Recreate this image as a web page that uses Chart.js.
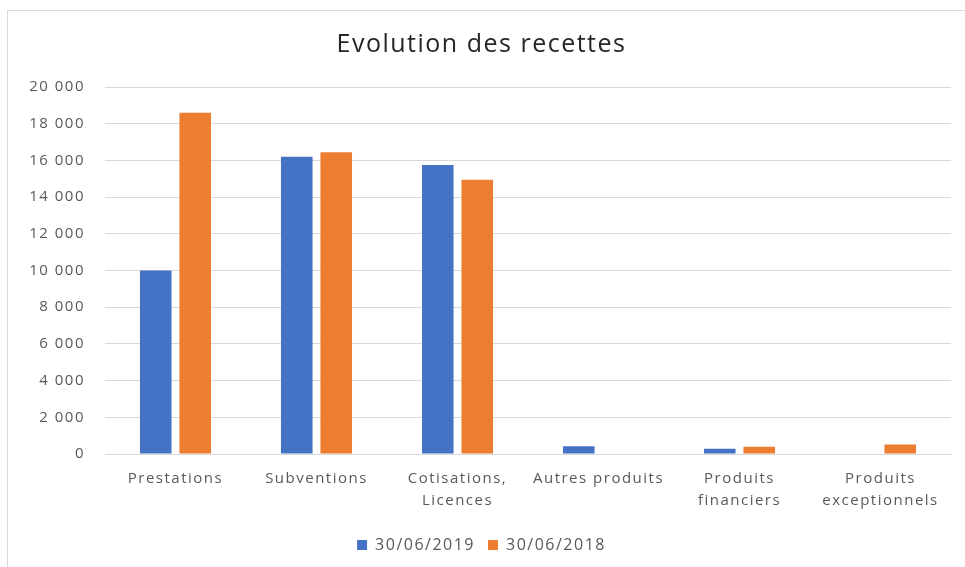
<!DOCTYPE html>
<html>
<head>
<meta charset="utf-8">
<script src="https://cdn.jsdelivr.net/npm/chart.js@4"></script>
<style>
  html, body { margin: 0; padding: 0; background: #fff; }
  #cadre { position: absolute; left: 7px; top: 10px; width: 970px; height: 570px; border: 1px solid #d9d9d9; box-sizing: border-box; }
  #graficoRecettes { position: absolute; left: 0; top: 0; }
</style>
</head>
<body>
<div id="cadre"></div>
<canvas id="graficoRecettes" width="965" height="567"></canvas>
<script>
// Données
const categories = [
    'Prestations',
    'Subventions',
    ['Cotisations,', 'Licences'],
    'Autres produits',
    ['Produits', 'financiers'],
    ['Produits', 'exceptionnels']
];
const recettes2019 = [10000, 16200, 15750, 420, 280, 0];
const recettes2018 = [18600, 16450, 14950, 0, 400, 520];
const etiquettesY = ['0', '2 000', '4 000', '6 000', '8 000', '10 000', '12 000', '14 000', '16 000', '18 000', '20 000'];

// Texte un peu espacé, comme dans l'image d'origine
const espacement = {
    id: 'espacement',
    beforeUpdate: (chart) => { chart.ctx.letterSpacing = '1.5px'; },
    beforeDraw: (chart) => { chart.ctx.letterSpacing = '1.5px'; }
};

const cargarGrafico = () => {
    const ctx = document.getElementById('graficoRecettes').getContext('2d');
    const police = "'Open Sans', 'DejaVu Sans', sans-serif";

    new Chart(ctx, {
        type: 'bar',
        data: {
            labels: categories,
            datasets: [
                {
                    label: '30/06/2019',
                    data: recettes2019,
                    backgroundColor: '#4472C4' // Bleu
                },
                {
                    label: '30/06/2018',
                    data: recettes2018,
                    backgroundColor: '#ED7D31' // Orange
                }
            ]
        },
        plugins: [espacement],
        options: {
            responsive: false,
            animation: false,
            categoryPercentage: 0.56,
            barPercentage: 0.8,
            layout: { padding: { left: 12, right: 14, top: 30, bottom: 4 } },
            plugins: {
                title: {
                    display: true,
                    text: 'Evolution des recettes',
                    color: '#262626',
                    font: { family: police, size: 25, weight: 'normal' },
                    padding: { top: 0, bottom: 27 }
                },
                legend: {
                    position: 'bottom',
                    labels: {
                        boxWidth: 10,
                        boxHeight: 10,
                        color: '#595959',
                        font: { family: police, size: 16 },
                        padding: 13
                    }
                },
                tooltip: { enabled: false }
            },
            scales: {
                x: {
                    grid: { display: false },
                    border: { color: '#d9d9d9' },
                    afterFit: (scale) => { scale.height += 7; },
                    ticks: {
                        color: '#595959',
                        padding: 5,
                        font: { family: police, size: 15, lineHeight: 1.5 },
                        maxRotation: 0,
                        autoSkip: false
                    }
                },
                y: {
                    min: 0,
                    max: 20000,
                    grid: { color: '#d9d9d9', drawTicks: false },
                    border: { display: false },
                    afterFit: (scale) => { scale.width = 93; },
                    ticks: {
                        stepSize: 2000,
                        color: '#595959',
                        padding: 20,
                        font: { family: police, size: 15 },
                        callback: (value) => etiquettesY[value / 2000]
                    }
                }
            }
        }
    });
};

window.addEventListener('DOMContentLoaded', cargarGrafico);
</script>
</body>
</html>
